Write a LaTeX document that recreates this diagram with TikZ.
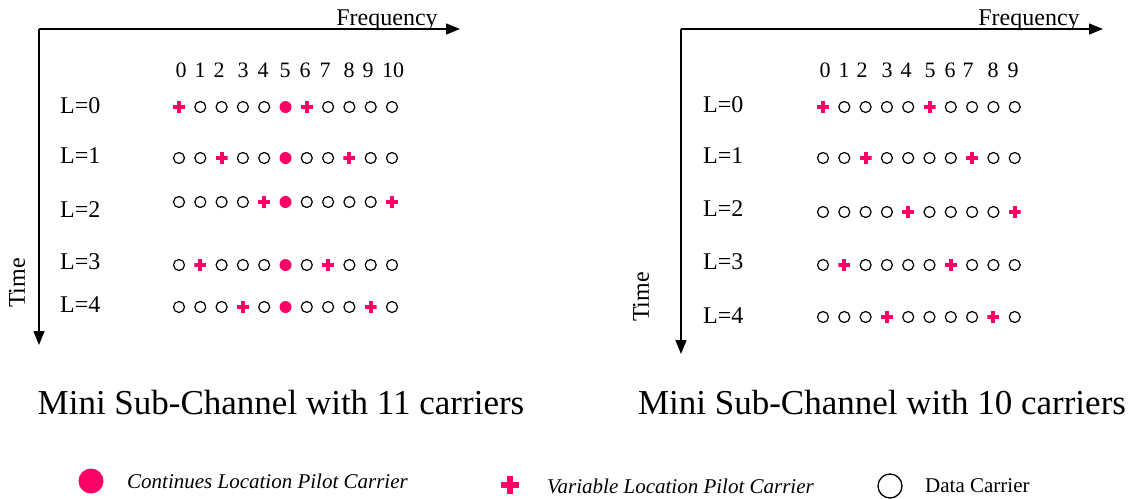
\documentclass[tikz,border=0pt]{standalone}
\usepackage{fontspec}
\setmainfont{Liberation Serif}
\usetikzlibrary{arrows.meta}
\definecolor{pilot}{RGB}{255,0,102}
\tikzset{
  axis/.style={line width=1.3pt,-{Triangle[length=14pt,width=11pt]}},
  datac/.style={circle,draw=black,line width=1.2pt,minimum size=11pt,inner sep=0pt},
  contp/.style={circle,fill=pilot,minimum size=12pt,inner sep=0pt},
  varp/.style={minimum size=12pt,inner sep=0pt,
    path picture={\fill[pilot] ([yshift=-2pt]path picture bounding box.west) rectangle ([yshift=2pt]path picture bounding box.east);
                  \fill[pilot] ([xshift=-2pt]path picture bounding box.south) rectangle ([xshift=2pt]path picture bounding box.north);}},
  bigvarp/.style={minimum size=18pt,inner sep=0pt,
    path picture={\fill[pilot] ([yshift=-3pt]path picture bounding box.west) rectangle ([yshift=3pt]path picture bounding box.east);
                  \fill[pilot] ([xshift=-3pt]path picture bounding box.south) rectangle ([xshift=3pt]path picture bounding box.north);}},
  axlab/.style={font=\fontsize{24}{28}\selectfont,anchor=base,inner sep=0pt},
  numlab/.style={font=\fontsize{22}{26}\selectfont,anchor=base,inner sep=0pt},
  rowlab/.style={font=\fontsize{24}{28}\selectfont,anchor=base west,inner sep=0pt},
  caption/.style={font=\fontsize{35}{40}\selectfont,inner sep=0pt},
  legtxt/.style={font=\fontsize{21}{25}\selectfont,anchor=west,inner sep=0pt},
}
\begin{document}
\begin{tikzpicture}[x=1pt,y=-1pt]
\useasboundingbox (0,0) rectangle (1132,498);
% ---------- left panel ----------
\coordinate (AO) at (39,29);
\coordinate (AF) at (460,29);
\coordinate (AT) at (39,345);
\draw[axis] (AO) -- (AF);
\draw[axis] (AO) -- (AT);
\node[axlab] (Afreq) at (387,25) {Frequency};
\node[axlab,rotate=90,anchor=center] (Atime) at (17,283) {Time};
\foreach \n/\x in {0/181,1/200,2/219,3/243,4/263,5/285,6/305,7/325,8/349,9/368,10/393}
  \node[numlab] (An\n) at (\x,77) {\n};
\foreach \r/\a/\y/\ly in {0/0/107/113,1/2/158/163,2/4/202/217,3/1/265/269,4/3/307/312}{
  \node[rowlab] (AL\r) at (60,\ly) {L=\r};
  \pgfmathtruncatemacro\b{\a+6}
  \foreach \i in {0,...,10}{
    \def\kind{datac}
    \ifnum\i=5 \def\kind{contp}\fi
    \ifnum\i=\a \def\kind{varp}\fi
    \ifnum\i=\b \def\kind{varp}\fi
    \node[\kind] (A\r-\i) at ({179+21.3*\i},\y) {};
  }
}
\node[caption] (Acap) at (281,403) {Mini Sub-Channel with 11 carriers};
% ---------- right panel ----------
\coordinate (BO) at (681,29);
\coordinate (BF) at (1103,29);
\coordinate (BT) at (681,354);
\draw[axis] (BO) -- (BF);
\draw[axis] (BO) -- (BT);
\node[axlab] (Bfreq) at (1029,25) {Frequency};
\node[axlab,rotate=90,anchor=center] (Btime) at (641,297) {Time};
\foreach \n/\x in {0/825,1/844,2/862,3/887,4/906,5/930,6/950,7/968,8/993,9/1013}
  \node[numlab] (Bn\n) at (\x,77) {\n};
\foreach \r/\a/\y/\ly in {0/0/107/112,1/2/158/163,2/4/212/216,3/1/265/269,4/3/317/323}{
  \node[rowlab] (BL\r) at (703,\ly) {L=\r};
  \pgfmathtruncatemacro\b{\a+5}
  \foreach \i in {0,...,9}{
    \def\kind{datac}
    \ifnum\i=\a \def\kind{varp}\fi
    \ifnum\i=\b \def\kind{varp}\fi
    \node[\kind] (B\r-\i) at ({823+21.3*\i},\y) {};
  }
}
\node[caption] (Bcap) at (882,403) {Mini Sub-Channel with 10 carriers};
% ---------- legend ----------
\node[contp,minimum size=25pt] (Lc) at (91,481) {};
\node[legtxt] (Lctxt) at (127,481) {\itshape Continues Location Pilot Carrier};
\node[bigvarp] (Lv) at (510,485) {};
\node[legtxt] (Lvtxt) at (547,486) {\itshape Variable Location Pilot Carrier};
\node[datac,minimum size=24pt,line width=1.3pt] (Ld) at (890,486) {};
\node[legtxt] (Ldtxt) at (925,486) {Data Carrier};
\end{tikzpicture}
\end{document}
